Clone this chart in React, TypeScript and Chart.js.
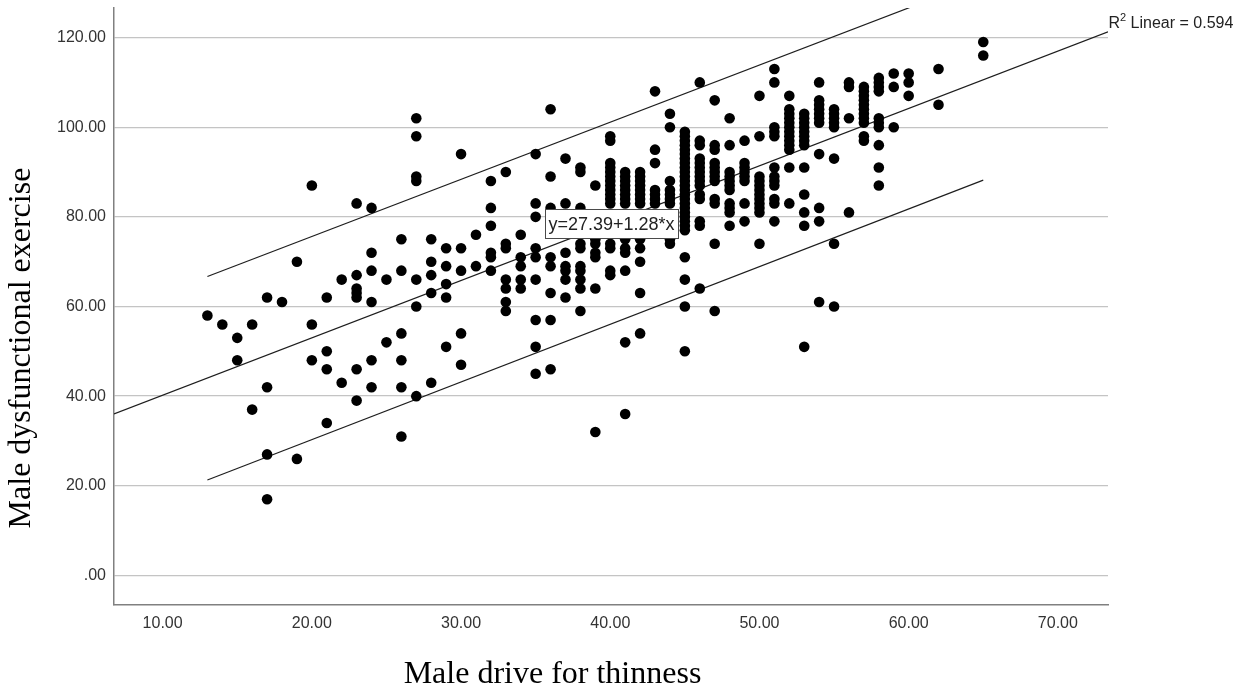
import { useEffect, useRef } from "react";
import { Chart, registerables } from "chart.js";

Chart.register(...registerables);

// ---- Axis setup ----
const xAxisMin = 6.74;
const xAxisMax = 73.36;
const yAxisMin = -6.6;
const yAxisMax = 126.6;
const xTicks = [10, 20, 30, 40, 50, 60, 70];
const xTickLabels = ["10.00", "20.00", "30.00", "40.00", "50.00", "60.00", "70.00"];
const yTicks = [0, 20, 40, 60, 80, 100, 120];
const yTickLabels = [".00", "20.00", "40.00", "60.00", "80.00", "100.00", "120.00"];

const xTitle = "Male drive for thinness";
const yTitle = "Male dysfunctional exercise";

// ---- Observations: Male drive for thinness (x) with Male dysfunctional exercise values (y) ----
const driveColumns = [
  13, 14, 15, 16, 17, 18, 19, 20, 21, 22, 23, 24, 25, 26, 27, 28, 29, 30, 31, 32,
  33, 34, 35, 36, 37, 38, 39, 40, 41, 42, 43, 44, 45, 46, 47, 48, 49, 50, 51, 52,
  53, 54, 55, 56, 57, 58, 59, 60, 62, 65,
];
const exerciseByColumn = [
  [58],
  [56],
  [53, 48],
  [56, 37],
  [62, 42, 27, 17],
  [61],
  [70, 26],
  [87, 56, 48],
  [62, 50, 46, 34],
  [66, 43],
  [83, 67, 64, 63, 62, 46, 39],
  [82, 72, 68, 61, 48, 42],
  [66, 52],
  [75, 68, 54, 48, 42, 31],
  [102, 98, 89, 88, 66, 60, 40],
  [75, 70, 67, 63, 43],
  [73, 69, 65, 62, 51],
  [94, 73, 68, 54, 47],
  [76, 69],
  [88, 82, 78, 72, 71, 68],
  [90, 74, 73, 66, 64, 61, 59],
  [76, 71, 69, 66, 64],
  [94, 83, 80, 73, 71, 66, 57, 51, 45],
  [104, 89, 82, 71, 69, 63, 57, 46],
  [93, 83, 72, 69, 68, 66, 62],
  [91, 90, 82, 74, 73, 69, 68, 66, 64, 59],
  [87, 75, 74, 72, 71, 64, 32],
  [98, 97, 92, 91, 90, 89, 88, 87, 86, 85, 84, 83, 74, 73, 68, 67],
  [90, 89, 88, 87, 86, 85, 84, 83, 75, 73, 72, 68, 52, 36],
  [90, 89, 88, 87, 86, 85, 84, 83, 75, 73, 70, 63, 54],
  [108, 95, 92, 86, 85, 84, 83],
  [103, 100, 88, 86, 85, 84, 83, 75, 74],
  [99, 98, 97, 96, 95, 94, 93, 92, 91, 90, 89, 88, 87, 86, 85, 84, 83, 82, 81, 80, 79, 78, 77, 71, 66, 60, 50],
  [110, 97, 96, 93, 92, 91, 90, 89, 88, 87, 85, 84, 79, 78, 64],
  [106, 96, 95, 92, 91, 90, 89, 88, 84, 83, 74, 59],
  [102, 96, 90, 89, 88, 87, 86, 83, 82, 81, 78],
  [97, 92, 91, 90, 89, 88, 83, 79],
  [107, 98, 89, 88, 87, 86, 85, 84, 83, 82, 81, 74],
  [113, 110, 100, 99, 98, 91, 89, 88, 87, 84, 83, 79],
  [107, 104, 103, 102, 101, 100, 99, 98, 97, 96, 95, 91, 83],
  [103, 102, 101, 100, 99, 98, 97, 96, 91, 85, 81, 78, 51],
  [110, 106, 105, 104, 103, 102, 101, 94, 82, 79, 61],
  [104, 103, 102, 101, 100, 93, 74, 60],
  [110, 109, 102, 81],
  [109, 108, 107, 106, 105, 104, 103, 102, 101, 98, 97],
  [111, 110, 109, 108, 102, 101, 100, 96, 91, 87],
  [112, 109, 100],
  [112, 110, 107],
  [113, 105],
  [119, 116],
];

// ---- Fit line and 95% individual prediction bounds (end points) ----
const fitLineX = [6.74, 73.36];
const fitLineY = [36.02, 121.29];
const upperBoundX = [13, 65];
const upperBoundY = [66.7, 133.0];
const lowerBoundX = [13, 65];
const lowerBoundY = [21.3, 88.2];

const equationText = "y=27.39+1.28*x";
const equationAnchor = { x: 35.63, y: 81.8 };
const r2Text = "0.594";

const sansFamily = '"Liberation Sans", Arial, Helvetica, sans-serif';
const serifFamily = '"Liberation Serif", "Times New Roman", Times, serif';

const toPoints = (xs: number[], ys: number[]) => xs.map((x, i) => ({ x, y: ys[i] }));

const annotationPlugin = {
  id: "spssAnnotations",
  afterDatasetsDraw(chart: any) {
    const { ctx, scales } = chart;
    const left = scales.x.getPixelForValue(equationAnchor.x);
    const top = scales.y.getPixelForValue(equationAnchor.y);
    ctx.save();
    ctx.font = `18px ${sansFamily}`;
    const w = ctx.measureText(equationText).width;
    const boxW = Math.round(w + 7);
    const boxH = 29;
    const bx = Math.round(left);
    const by = Math.round(top);
    ctx.fillStyle = "#ffffff";
    ctx.fillRect(bx, by, boxW, boxH);
    ctx.strokeStyle = "#4a4a4a";
    ctx.lineWidth = 1;
    ctx.strokeRect(bx + 0.5, by + 0.5, boxW, boxH);
    ctx.fillStyle = "#222222";
    ctx.textBaseline = "alphabetic";
    ctx.textAlign = "left";
    ctx.fillText(equationText, bx + 3.5, by + 21);
    ctx.restore();
  },
  afterDraw(chart: any) {
    const { ctx, chartArea } = chart;
    ctx.save();
    // R² label
    ctx.fillStyle = "#222222";
    ctx.textBaseline = "alphabetic";
    ctx.textAlign = "left";
    let x = chartArea.right + 0.5;
    const base = 27.5;
    ctx.font = `16px ${sansFamily}`;
    ctx.fillText("R", x, base);
    x += ctx.measureText("R").width;
    ctx.font = `11px ${sansFamily}`;
    ctx.fillText("2", x, base - 6.5);
    x += ctx.measureText("2").width;
    ctx.font = `16px ${sansFamily}`;
    ctx.fillText(" Linear = " + r2Text, x, base);

    // axis titles
    ctx.fillStyle = "#000000";
    ctx.font = `32px ${serifFamily}`;
    ctx.textAlign = "center";
    ctx.fillText(xTitle, 552.5, 683);
    ctx.translate(29.5, 348);
    ctx.rotate(-Math.PI / 2);
    ctx.fillText(yTitle, 0, 0);
    ctx.restore();
  },
};

export default function App() {
  const canvasRef = useRef<HTMLCanvasElement | null>(null);

  useEffect(() => {
    if (!canvasRef.current) return;
    const scatterData: { x: number; y: number }[] = [];
    driveColumns.forEach((x, i) => {
      exerciseByColumn[i].forEach((y) => scatterData.push({ x, y }));
    });

    const lineStyle = {
      showLine: true,
      pointRadius: 0,
      pointHoverRadius: 0,
      borderColor: "#1e1e1e",
      borderWidth: 1.2,
      backgroundColor: "transparent",
      fill: false,
    };

    const chart = new Chart(canvasRef.current, {
      type: "scatter",
      data: {
        datasets: [
          {
            label: "Observed",
            data: scatterData,
            pointRadius: 5.3,
            pointHoverRadius: 5.3,
            pointBackgroundColor: "#000000",
            pointBorderColor: "#000000",
            pointBorderWidth: 0,
          } as any,
          { label: "Linear fit", data: toPoints(fitLineX, fitLineY), ...lineStyle } as any,
          { label: "Upper bound", data: toPoints(upperBoundX, upperBoundY), ...lineStyle } as any,
          { label: "Lower bound", data: toPoints(lowerBoundX, lowerBoundY), ...lineStyle } as any,
        ],
      },
      options: {
        animation: false,
        responsive: false,
        events: [],
        layout: { padding: { left: 0, right: 138, top: 8, bottom: 0 } },
        plugins: {
          legend: { display: false },
          tooltip: { enabled: false },
          title: { display: false },
        },
        scales: {
          x: {
            type: "linear",
            min: xAxisMin,
            max: xAxisMax,
            afterBuildTicks: (s: any) => {
              s.ticks = xTicks.map((v) => ({ value: v }));
            },
            afterFit: (s: any) => {
              s.height = 87;
              s.paddingLeft = 0;
              s.paddingRight = 0;
            },
            ticks: {
              autoSkip: false,
              maxRotation: 0,
              padding: 9,
              color: "#333333",
              font: { family: sansFamily, size: 16 },
              callback: (v: any) => xTickLabels[xTicks.indexOf(Number(v))] ?? "",
            },
            grid: { display: false, drawTicks: false },
            border: { display: true, color: "#808080", width: 1.5 },
          },
          y: {
            type: "linear",
            min: yAxisMin,
            max: yAxisMax,
            afterBuildTicks: (s: any) => {
              s.ticks = yTicks.map((v) => ({ value: v }));
            },
            afterFit: (s: any) => {
              s.width = 114;
              s.paddingTop = 0;
              s.paddingBottom = 0;
            },
            ticks: {
              autoSkip: false,
              padding: 8,
              color: "#333333",
              font: { family: sansFamily, size: 16 },
              callback: (v: any) => yTickLabels[yTicks.indexOf(Number(v))] ?? "",
            },
            grid: { display: true, drawTicks: false, color: "#c4c4c4", lineWidth: 1.3 },
            border: { display: true, color: "#808080", width: 1.5 },
          },
        },
      } as any,
      plugins: [annotationPlugin],
    });

    return () => chart.destroy();
  }, []);

  return (
    <div
      style={{
        position: "fixed",
        left: 0,
        top: 0,
        width: 1246,
        height: 692,
        background: "#ffffff",
        overflow: "hidden",
      }}
    >
      <canvas ref={canvasRef} width={1246} height={692} style={{ display: "block" }} />
    </div>
  );
}
